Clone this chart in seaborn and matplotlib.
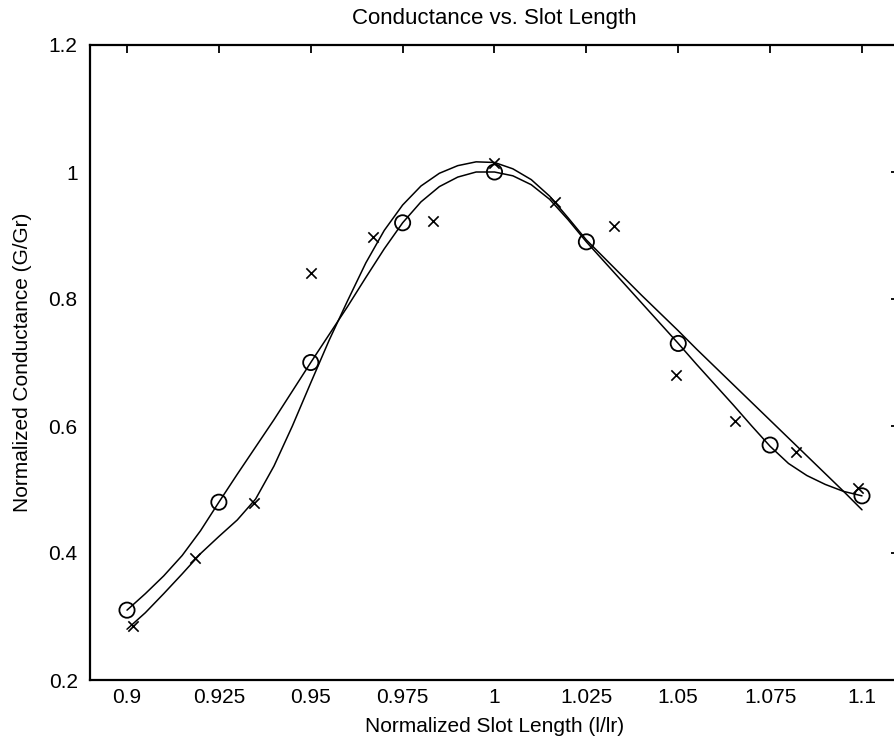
import matplotlib
matplotlib.use("Agg")
import matplotlib.pyplot as plt
import seaborn as sns
import pandas as pd

# ---- data ----
circle_x = [0.900, 0.925, 0.950, 0.975, 1.000, 1.025, 1.050, 1.075, 1.100]
circle_y = [0.310, 0.480, 0.700, 0.920, 1.000, 0.890, 0.730, 0.570, 0.490]

cross_x = [0.9016, 0.9185, 0.9345, 0.9500, 0.9670, 0.9832, 1.0000,
           1.0164, 1.0325, 1.0494, 1.0654, 1.0820, 1.0988]
cross_y = [0.285, 0.392, 0.479, 0.841, 0.898, 0.923, 1.014,
           0.953, 0.915, 0.680, 0.608, 0.559, 0.502]

# curve through the circles
ccurve_x = [0.900, 0.905, 0.910, 0.915, 0.920, 0.925, 0.930, 0.935, 0.940, 0.945,
            0.950, 0.955, 0.960, 0.965, 0.970, 0.975, 0.980, 0.985, 0.990, 0.995,
            1.000, 1.005, 1.010, 1.015, 1.020, 1.025, 1.030, 1.035, 1.040, 1.045,
            1.050, 1.055, 1.060, 1.065, 1.070, 1.075, 1.080, 1.085, 1.090, 1.095, 1.100]
ccurve_y = [0.310, 0.336, 0.364, 0.396, 0.435, 0.480, 0.524, 0.567, 0.610, 0.655,
            0.700, 0.744, 0.788, 0.834, 0.879, 0.920, 0.953, 0.977, 0.992, 1.000,
            1.000, 0.994, 0.980, 0.957, 0.925, 0.890, 0.858, 0.826, 0.794, 0.762,
            0.730, 0.697, 0.665, 0.633, 0.600, 0.568, 0.541, 0.522, 0.508, 0.497, 0.490]

# fitted curve for the crosses
xcurve_x = [0.900, 0.905, 0.910, 0.915, 0.920, 0.925, 0.930, 0.935, 0.940, 0.945,
            0.950, 0.955, 0.960, 0.965, 0.970, 0.975, 0.980, 0.985, 0.990, 0.995,
            1.000, 1.005, 1.010, 1.015, 1.020, 1.025, 1.030, 1.035, 1.040, 1.045,
            1.050, 1.055, 1.060, 1.065, 1.070, 1.075, 1.080, 1.085, 1.090, 1.095, 1.100]
xcurve_y = [0.280, 0.306, 0.336, 0.367, 0.399, 0.426, 0.452, 0.485, 0.537, 0.600,
            0.668, 0.735, 0.797, 0.857, 0.908, 0.948, 0.978, 0.998, 1.010, 1.016,
            1.015, 1.005, 0.988, 0.962, 0.928, 0.893, 0.864, 0.835, 0.806, 0.778,
            0.750, 0.721, 0.693, 0.665, 0.637, 0.609, 0.581, 0.553, 0.525, 0.497, 0.468]

xticks = [0.9, 0.925, 0.95, 0.975, 1.0, 1.025, 1.05, 1.075, 1.1]
xtick_labels = ["0.9", "0.925", "0.95", "0.975", "1", "1.025", "1.05", "1.075", "1.1"]
yticks = [0.2, 0.4, 0.6, 0.8, 1.0, 1.2]
ytick_labels = ["0.2", "0.4", "0.6", "0.8", "1", "1.2"]

title = "Conductance vs. Slot Length"
xlabel = "Normalized Slot Length (l/lr)"
ylabel = "Normalized Conductance (G/Gr)"

# ---- style ----
sns.set_style("white")
plt.rcParams["font.family"] = ["Liberation Sans", "DejaVu Sans"]
plt.rcParams["text.color"] = "black"
plt.rcParams["axes.labelcolor"] = "black"
FS = 15

fig = plt.figure(figsize=(8.95, 7.49), dpi=100)
ax = fig.add_axes([90.25 / 895, 69 / 749, 808.5 / 895, 635 / 749])

df_c = pd.DataFrame({"x": ccurve_x, "y": ccurve_y})
df_x = pd.DataFrame({"x": xcurve_x, "y": xcurve_y})
sns.lineplot(data=df_c, x="x", y="y", ax=ax, color="black", linewidth=1.1,
             sort=False, estimator=None)
sns.lineplot(data=df_x, x="x", y="y", ax=ax, color="black", linewidth=1.1,
             sort=False, estimator=None)

pts_c = pd.DataFrame({"x": circle_x, "y": circle_y})
pts_x = pd.DataFrame({"x": cross_x, "y": cross_y})
sns.scatterplot(data=pts_c, x="x", y="y", ax=ax, marker="o", s=120,
                facecolor="none", edgecolor="black", linewidth=1.3, zorder=3)
sns.scatterplot(data=pts_x, x="x", y="y", ax=ax, marker="x", s=55,
                color="black", linewidth=1.2, zorder=3)

ax.set_xlim(0.89, 1.11)
ax.set_ylim(0.2, 1.2)
ax.set_xticks(xticks)
ax.set_xticklabels(xtick_labels)
ax.set_yticks(yticks)
ax.set_yticklabels(ytick_labels)

ax.tick_params(direction="in", length=6, width=1.3, top=True, right=True,
               labelsize=FS, colors="black")
ax.tick_params(axis="y", pad=9)
ax.tick_params(axis="x", pad=6)
for sp in ax.spines.values():
    sp.set_visible(True)
    sp.set_color("black")
    sp.set_linewidth(1.6)

ax.set_title(title, fontsize=FS + 1, pad=15, color="black")
ax.set_xlabel(xlabel, fontsize=FS, labelpad=7)
ax.set_ylabel(ylabel, fontsize=FS, labelpad=12)

fig.savefig("out.png", dpi=100)
